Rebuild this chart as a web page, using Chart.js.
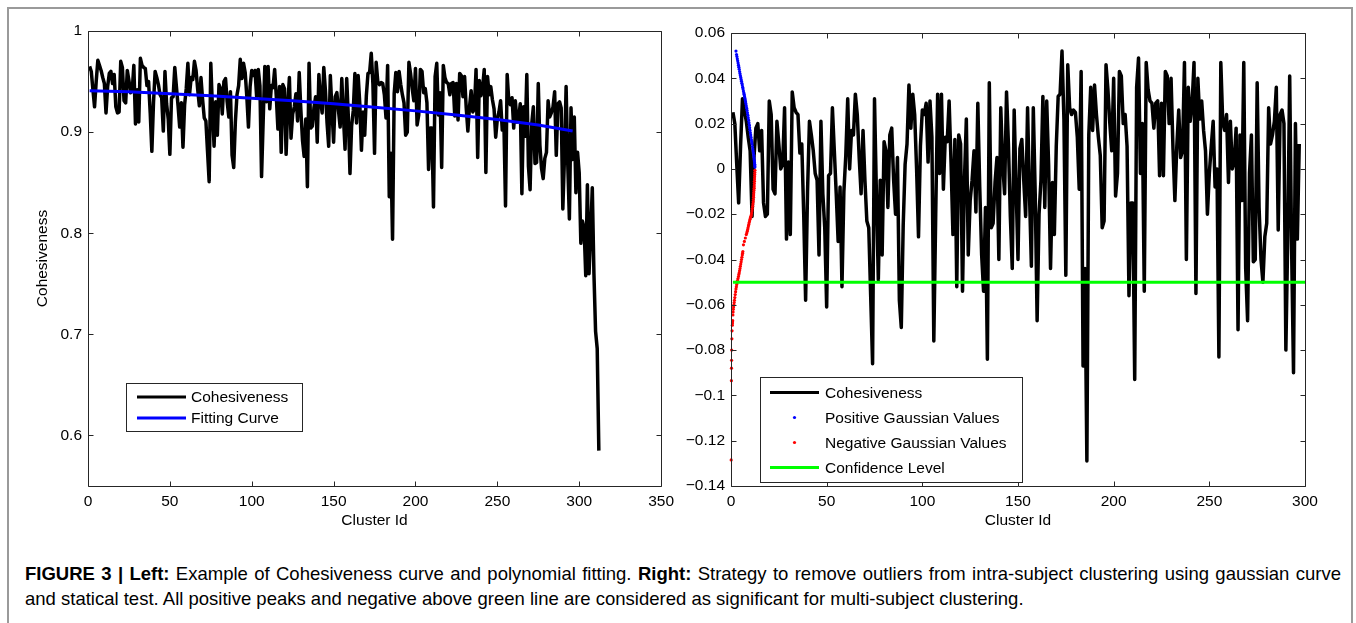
<!DOCTYPE html>
<html>
<head>
<meta charset="utf-8">
<script src="https://cdn.jsdelivr.net/npm/chart.js@4.4.1/dist/chart.umd.min.js"></script>
<style>
    html, body { margin: 0; padding: 0; background: #fff; }
    body { width: 1356px; height: 623px; position: relative; overflow: hidden; font-family: "Liberation Sans", Arial, sans-serif; }
    #frame { position: absolute; left: 7px; top: 7px; width: 1346px; height: 640px; box-sizing: border-box;
             border: 2px solid #9a9a9a; border-bottom: none; }
    #leftChart { position: absolute; left: 0; top: 0; }
    #rightChart { position: absolute; left: 680px; top: 0; }
    #caption { position: absolute; left: 25px; top: 561px; width: 1316px; font-size: 18.5px; line-height: 25px;
               color: #000; text-align: justify; }
</style>
</head>
<body>
<div id="frame"></div>
<canvas id="leftChart" width="680" height="540"></canvas>
<canvas id="rightChart" width="676" height="540"></canvas>
<div id="caption"><b>FIGURE 3 | Left:</b> Example of Cohesiveness curve and polynomial fitting. <b>Right:</b> Strategy to remove outliers from intra-subject clustering using gaussian curve and statical test. All positive peaks and negative above green line are considered as significant for multi-subject clustering.</div>

<script>
// ===============================
// DATA
// ===============================

// left panel: cohesiveness per cluster id (1..312)
const leftCohesiveness = [
    0.965, 0.960, 0.942, 0.925, 0.950, 0.971, 0.966, 0.961, 0.954, 0.948,
    0.919, 0.945, 0.958, 0.960, 0.948, 0.957, 0.925, 0.919, 0.920, 0.970,
    0.964, 0.931, 0.929, 0.961, 0.951, 0.939, 0.941, 0.966, 0.908, 0.942,
    0.910, 0.973, 0.966, 0.964, 0.963, 0.946, 0.950, 0.919, 0.881, 0.929,
    0.960, 0.954, 0.947, 0.937, 0.934, 0.901, 0.960, 0.928, 0.913, 0.878,
    0.934, 0.935, 0.964, 0.945, 0.926, 0.905, 0.929, 0.885, 0.927, 0.943,
    0.968, 0.937, 0.954, 0.952, 0.970, 0.961, 0.942, 0.926, 0.954, 0.932,
    0.914, 0.911, 0.881, 0.851, 0.968, 0.924, 0.886, 0.930, 0.897, 0.947,
    0.943, 0.918, 0.950, 0.953, 0.930, 0.915, 0.940, 0.877, 0.865, 0.910,
    0.937, 0.946, 0.972, 0.953, 0.968, 0.959, 0.935, 0.905, 0.945, 0.961,
    0.956, 0.961, 0.935, 0.962, 0.946, 0.856, 0.912, 0.965, 0.930, 0.965,
    0.923, 0.946, 0.944, 0.962, 0.935, 0.903, 0.945, 0.880, 0.947, 0.943,
    0.878, 0.927, 0.954, 0.894, 0.918, 0.925, 0.938, 0.911, 0.959, 0.922,
    0.892, 0.876, 0.913, 0.846, 0.968, 0.904, 0.906, 0.924, 0.935, 0.890,
    0.957, 0.932, 0.919, 0.964, 0.941, 0.909, 0.886, 0.956, 0.922, 0.890,
    0.935, 0.939, 0.921, 0.905, 0.953, 0.915, 0.883, 0.953, 0.915, 0.859,
    0.906, 0.921, 0.958, 0.909, 0.956, 0.928, 0.882, 0.920, 0.897, 0.936,
    0.958, 0.959, 0.978, 0.948, 0.879, 0.969, 0.950, 0.947, 0.949, 0.948,
    0.937, 0.914, 0.966, 0.836, 0.879, 0.794, 0.938, 0.959, 0.940, 0.960,
    0.947, 0.937, 0.929, 0.897, 0.900, 0.969, 0.958, 0.943, 0.931, 0.963,
    0.907, 0.917, 0.962, 0.960, 0.939, 0.943, 0.929, 0.863, 0.904, 0.904,
    0.826, 0.955, 0.968, 0.917, 0.939, 0.865, 0.966, 0.954, 0.949, 0.948,
    0.937, 0.948, 0.949, 0.916, 0.948, 0.912, 0.958, 0.956, 0.935, 0.955,
    0.924, 0.901, 0.925, 0.941, 0.920, 0.923, 0.962, 0.875, 0.951, 0.936,
    0.944, 0.962, 0.860, 0.955, 0.937, 0.945, 0.932, 0.923, 0.895, 0.913,
    0.920, 0.931, 0.902, 0.910, 0.827, 0.957, 0.931, 0.927, 0.934, 0.904,
    0.931, 0.910, 0.913, 0.928, 0.839, 0.925, 0.896, 0.957, 0.866, 0.843,
    0.908, 0.925, 0.869, 0.870, 0.948, 0.887, 0.864, 0.854, 0.874, 0.880,
    0.931, 0.915, 0.919, 0.925, 0.940, 0.877, 0.928, 0.930, 0.924, 0.824,
    0.875, 0.945, 0.869, 0.814, 0.924, 0.873, 0.915, 0.840, 0.880, 0.860,
    0.790, 0.812, 0.805, 0.758, 0.848, 0.760, 0.800, 0.845, 0.760, 0.703,
    0.686, 0.585
];

// left panel: polynomial fitting curve
const fitIds = [1, 25, 50, 75, 100, 125, 150, 175, 200, 225, 250, 275, 296];
const fitValues = [0.941, 0.940, 0.938, 0.936, 0.9335, 0.931, 0.928, 0.9245, 0.921, 0.917, 0.9125, 0.907, 0.901];

// right panel: cohesiveness minus fitting curve (1..297)
const rightResidual = [
    0.025, 0.020, 0.002, -0.015, 0.010, 0.031, 0.026, 0.021, 0.014, 0.008,
    -0.021, 0.005, 0.018, 0.020, 0.008, 0.017, -0.015, -0.021, -0.020, 0.030,
    0.024, -0.009, -0.011, 0.021, 0.011, 0.000, 0.002, 0.027, -0.031, 0.003,
    -0.029, 0.034, 0.027, 0.025, 0.024, 0.007, 0.011, -0.020, -0.058, -0.010,
    0.021, 0.015, 0.008, -0.002, -0.005, -0.038, 0.021, -0.011, -0.026, -0.061,
    -0.003, -0.002, 0.027, 0.008, -0.011, -0.032, -0.008, -0.052, -0.010, 0.006,
    0.031, 0.000, 0.017, 0.015, 0.033, 0.024, 0.005, -0.011, 0.017, -0.005,
    -0.023, -0.026, -0.056, -0.086, 0.031, -0.011, -0.049, -0.005, -0.038, 0.012,
    0.008, -0.017, 0.015, 0.018, -0.005, -0.020, 0.005, -0.058, -0.070, -0.025,
    0.002, 0.011, 0.037, 0.018, 0.033, 0.024, 0.000, -0.030, 0.010, 0.026,
    0.024, 0.029, 0.003, 0.030, 0.014, -0.076, -0.020, 0.033, -0.002, 0.033,
    -0.009, 0.014, 0.012, 0.030, 0.003, -0.029, 0.013, -0.052, 0.015, 0.011,
    -0.054, -0.005, 0.022, -0.038, -0.014, -0.005, 0.008, -0.019, 0.029, -0.008,
    -0.038, -0.054, -0.017, -0.084, 0.038, -0.026, -0.024, -0.006, 0.005, -0.040,
    0.027, 0.002, -0.011, 0.034, 0.011, -0.021, -0.044, 0.026, -0.008, -0.040,
    0.009, 0.013, -0.005, -0.021, 0.027, -0.011, -0.043, 0.027, -0.011, -0.067,
    -0.020, -0.005, 0.032, -0.017, 0.030, 0.002, -0.044, -0.006, -0.029, 0.010,
    0.032, 0.033, 0.052, 0.022, -0.047, 0.046, 0.027, 0.024, 0.026, 0.025,
    0.014, -0.009, 0.043, -0.087, -0.044, -0.129, 0.015, 0.036, 0.017, 0.037,
    0.024, 0.014, 0.006, -0.026, -0.023, 0.046, 0.035, 0.020, 0.008, 0.040,
    -0.012, -0.002, 0.043, 0.041, 0.020, 0.024, 0.010, -0.056, -0.015, -0.015,
    -0.093, 0.036, 0.049, -0.002, 0.020, -0.054, 0.047, 0.035, 0.030, 0.029,
    0.018, 0.029, 0.030, -0.003, 0.029, -0.003, 0.043, 0.041, 0.020, 0.040,
    0.009, -0.014, 0.010, 0.026, 0.005, 0.008, 0.047, -0.040, 0.036, 0.021,
    0.029, 0.047, -0.055, 0.040, 0.022, 0.030, 0.017, 0.008, -0.020, -0.002,
    0.010, 0.021, -0.008, 0.000, -0.083, 0.047, 0.021, 0.017, 0.024, -0.006,
    0.021, 0.000, 0.003, 0.018, -0.071, 0.015, -0.014, 0.047, -0.044, -0.067,
    -0.002, 0.015, -0.041, -0.040, 0.038, -0.017, -0.040, -0.050, -0.030, -0.024,
    0.027, 0.011, 0.015, 0.021, 0.036, -0.027, 0.024, 0.026, 0.020, -0.080,
    -0.029, 0.041, -0.035, -0.090, 0.020, -0.031, 0.011
];

// right panel: gaussian values (x position, value)
const posGaussX = [2.6, 2.9, 3.1, 3.3, 3.5, 3.7, 3.9, 4.1, 4.3, 4.5, 4.7, 4.9, 5.1, 5.3, 5.5,
    5.7, 5.9, 6.1, 6.3, 6.5, 6.7, 6.85, 7.0, 7.15, 7.3, 7.45, 7.6, 7.8, 8.0, 8.2,
    8.4, 8.6, 8.8, 9.0, 9.2, 9.4, 9.6, 9.75, 9.9, 10.1, 10.3, 10.5, 10.7, 10.85, 11.0,
    11.2, 11.4, 11.55, 11.7, 11.85, 12.0, 12.1, 12.2, 12.3, 12.4, 12.45, 12.5];
const posGaussY = [0.0520, 0.0505, 0.0496, 0.0486, 0.0477, 0.0468, 0.0458, 0.0449, 0.0440, 0.0430,
    0.0421, 0.0412, 0.0404, 0.0395, 0.0387, 0.0378, 0.0370, 0.0361, 0.0353, 0.0344,
    0.0336, 0.0330, 0.0323, 0.0317, 0.0311, 0.0304, 0.0297, 0.0288, 0.0278, 0.0268,
    0.0258, 0.0248, 0.0237, 0.0226, 0.0215, 0.0204, 0.0193, 0.0182, 0.0171, 0.0160,
    0.0150, 0.0139, 0.0128, 0.0119, 0.0110, 0.0099, 0.0088, 0.0079, 0.0070, 0.0060,
    0.0050, 0.0042, 0.0035, 0.0027, 0.0020, 0.0014, 0.0008];

const negGaussX = [12.5, 12.45, 12.4, 12.35, 12.3, 12.25, 12.2, 12.15, 12.1, 12.0, 11.9, 11.85,
    11.8, 11.7, 11.6, 11.45, 11.3, 11.15, 11.0, 10.8, 10.6, 10.4, 10.2, 9.95, 9.7, 9.5, 9.3,
    9.1, 8.9, 8.7, 8.5, 8.25, 8.0, 7.5, 7.0, 6.5, 6.2, 6.05, 5.9, 5.7, 5.5, 5.3, 5.1, 4.9,
    4.7, 4.5, 4.3, 4.1, 3.9, 3.65, 3.4, 3.2, 3.0, 2.8, 2.6, 2.4, 2.2, 2.0, 1.8, 1.65, 1.5,
    1.35, 1.2, 1.1, 1.0, 0.9, 0.8, 0.7, 0.55, 0.45, 0.35, 0.3, 0.25, 0.2, 0.1];
const negGaussY = [-0.0006, -0.0016, -0.0025, -0.0035, -0.0045, -0.0055, -0.0065, -0.0075, -0.0085,
    -0.0095, -0.0105, -0.0115, -0.0125, -0.0135, -0.0145, -0.0155, -0.0165, -0.0175, -0.0185,
    -0.0195, -0.0203, -0.0209, -0.0215, -0.0222, -0.0230, -0.0237, -0.0245, -0.0252, -0.0260,
    -0.0268, -0.0275, -0.0283, -0.0290, -0.0305, -0.0320, -0.0335, -0.0365, -0.0372, -0.0380,
    -0.0390, -0.0400, -0.0410, -0.0420, -0.0430, -0.0440, -0.0449, -0.0458, -0.0466, -0.0475,
    -0.0484, -0.0493, -0.0502, -0.0510, -0.0520, -0.0530, -0.0542, -0.0555, -0.0568, -0.0580,
    -0.0590, -0.0600, -0.0610, -0.0620, -0.0632, -0.0645, -0.0670, -0.0680, -0.0690, -0.0715,
    -0.0750, -0.0800, -0.0845, -0.0880, -0.0935, -0.1285];

// confidence level
const confIds = [1, 300];
const confValues = [-0.05, -0.05];

// ticks
const leftXTicks = [0, 50, 100, 150, 200, 250, 300, 350];
const leftXLabels = ["0", "50", "100", "150", "200", "250", "300", "350"];
const leftYTicks = [0.6, 0.7, 0.8, 0.9, 1];
const leftYLabels = ["0.6", "0.7", "0.8", "0.9", "1"];

const rightXTicks = [0, 50, 100, 150, 200, 250, 300];
const rightXLabels = ["0", "50", "100", "150", "200", "250", "300"];
const rightYTicks = [-0.14, -0.12, -0.1, -0.08, -0.06, -0.04, -0.02, 0, 0.02, 0.04, 0.06];
const rightYLabels = ["\u22120.14", "\u22120.12", "\u22120.1", "\u22120.08", "\u22120.06", "\u22120.04",
    "\u22120.02", "0", "0.02", "0.04", "0.06"];


// ===============================
// HELPERS
// ===============================

const FONT = { family: "'Liberation Sans', Arial, sans-serif", size: 15.5 };

function pairs(xs, ys) {
    return xs.map((x, i) => ({ x: x, y: ys[i] }));
}

function fixedTicks(values, labels) {
    return {
        afterBuildTicks: s => { s.ticks = values.map(v => ({ value: v })); },
        ticks: {
            callback: (v, i) => labels[i],
            font: FONT, color: '#000', padding: 6,
            autoSkip: false, maxRotation: 0
        }
    };
}

// MATLAB style box with inward ticks
const matlabBox = {
    id: 'matlabBox',
    afterDatasetsDraw(chart) {
        const ctx = chart.ctx;
        const a = chart.chartArea;
        const x = chart.scales.x, y = chart.scales.y;
        const L = Math.round(a.left) + 0.5, R = Math.round(a.right) + 0.5;
        const T = Math.round(a.top) + 0.5, B = Math.round(a.bottom) + 0.5;
        ctx.save();
        ctx.strokeStyle = '#262626';
        ctx.lineWidth = 1;
        ctx.beginPath();
        ctx.rect(L, T, R - L, B - T);
        x.ticks.forEach(t => {
            const px = Math.round(x.getPixelForValue(t.value)) + 0.5;
            ctx.moveTo(px, B); ctx.lineTo(px, B - 5);
            ctx.moveTo(px, T); ctx.lineTo(px, T + 5);
        });
        y.ticks.forEach(t => {
            const py = Math.round(y.getPixelForValue(t.value)) + 0.5;
            ctx.moveTo(L, py); ctx.lineTo(L + 5, py);
            ctx.moveTo(R, py); ctx.lineTo(R - 5, py);
        });
        ctx.stroke();
        ctx.restore();
    }
};

// boxed legend inside the plot, like MATLAB
const boxLegend = {
    id: 'boxLegend',
    afterDraw(chart, args, opts) {
        const ctx = chart.ctx;
        ctx.save();
        ctx.fillStyle = '#fff';
        ctx.fillRect(opts.left, opts.top, opts.width, opts.height);
        ctx.strokeStyle = '#262626';
        ctx.lineWidth = 1;
        ctx.strokeRect(opts.left + 0.5, opts.top + 0.5, opts.width, opts.height);
        ctx.font = FONT.size + 'px ' + FONT.family;
        ctx.textBaseline = 'middle';
        chart.data.datasets.forEach((ds, i) => {
            const yy = opts.top + opts.firstRow + i * opts.rowGap;
            if (ds.showLine === false) {
                ctx.fillStyle = ds.backgroundColor;
                ctx.beginPath();
                ctx.arc((opts.lineX0 + opts.lineX1) / 2, yy, ds.pointRadius, 0, Math.PI * 2);
                ctx.fill();
            } else {
                ctx.strokeStyle = ds.borderColor;
                ctx.lineWidth = 3;
                ctx.beginPath();
                ctx.moveTo(opts.lineX0, yy);
                ctx.lineTo(opts.lineX1, yy);
                ctx.stroke();
            }
            ctx.fillStyle = '#000';
            ctx.fillText(ds.label, opts.textX, yy + 1);
        });
        ctx.restore();
    }
};

function lineSet(label, data, color, width, order) {
    return {
        label: label, data: data, borderColor: color, backgroundColor: color,
        borderWidth: width, pointRadius: 0, tension: 0, borderJoinStyle: 'round',
        order: order
    };
}

function dotSet(label, data, color, order) {
    return {
        label: label, data: data, showLine: false, backgroundColor: color,
        borderWidth: 0, pointRadius: 1.6, order: order, clip: false
    };
}


// ===============================
// LEFT CHART
// ===============================

const leftIds = leftCohesiveness.map((v, i) => i + 1);

const leftX = fixedTicks(leftXTicks, leftXLabels);
const leftY = fixedTicks(leftYTicks, leftYLabels);

let leftChart = new Chart(document.getElementById('leftChart'), {
    type: 'line',
    data: {
        datasets: [
            lineSet('Cohesiveness', pairs(leftIds, leftCohesiveness), '#000000', 3.5, 2),
            lineSet('Fitting Curve', pairs(fitIds, fitValues), '#0000ff', 3, 1)
        ]
    },
    options: {
        responsive: false,
        animation: false,
        events: [],
        layout: { padding: { left: 0, top: 31, right: 15, bottom: 0 } },
        scales: {
            x: {
                type: 'linear', min: 0, max: 350,
                afterBuildTicks: leftX.afterBuildTicks,
                afterFit: s => { s.height = 54; },
                ticks: leftX.ticks,
                grid: { display: false, drawTicks: false },
                border: { display: false },
                title: { display: true, text: 'Cluster Id', font: FONT, color: '#000', padding: { top: 0, bottom: 10 } }
            },
            y: {
                type: 'linear', min: 0.55, max: 1,
                afterBuildTicks: leftY.afterBuildTicks,
                afterFit: s => { s.width = 88; },
                ticks: leftY.ticks,
                grid: { display: false, drawTicks: false },
                border: { display: false },
                title: { display: true, text: 'Cohesiveness', font: FONT, color: '#000', padding: { top: 33, bottom: 0 } }
            }
        },
        plugins: {
            legend: { display: false },
            tooltip: { enabled: false },
            boxLegend: { left: 126, top: 383, width: 176, height: 48, firstRow: 14, rowGap: 21, lineX0: 137, lineX1: 186, textX: 191 }
        }
    },
    plugins: [matlabBox, boxLegend]
});


// ===============================
// RIGHT CHART
// ===============================

const rightIds = rightResidual.map((v, i) => i + 1);

const rightX = fixedTicks(rightXTicks, rightXLabels);
const rightY = fixedTicks(rightYTicks, rightYLabels);

let rightChart = new Chart(document.getElementById('rightChart'), {
    type: 'line',
    data: {
        datasets: [
            lineSet('Cohesiveness', pairs(rightIds, rightResidual), '#000000', 3.5, 4),
            dotSet('Positive Gaussian Values', pairs(posGaussX, posGaussY), '#0000ff', 2),
            dotSet('Negative Gaussian Values', pairs(negGaussX, negGaussY), '#ff0000', 2),
            lineSet('Confidence Level', pairs(confIds, confValues), '#00ff00', 3, 1)
        ]
    },
    options: {
        responsive: false,
        animation: false,
        events: [],
        layout: { padding: { left: 0, top: 33, right: 51, bottom: 0 } },
        scales: {
            x: {
                type: 'linear', min: 0, max: 300,
                afterBuildTicks: rightX.afterBuildTicks,
                afterFit: s => { s.height = 54; },
                ticks: rightX.ticks,
                grid: { display: false, drawTicks: false },
                border: { display: false },
                title: { display: true, text: 'Cluster Id', font: FONT, color: '#000', padding: { top: 0, bottom: 10 } }
            },
            y: {
                type: 'linear', min: -0.14, max: 0.06,
                afterBuildTicks: rightY.afterBuildTicks,
                afterFit: s => { s.width = 51; },
                ticks: rightY.ticks,
                grid: { display: false, drawTicks: false },
                border: { display: false }
            }
        },
        plugins: {
            legend: { display: false },
            tooltip: { enabled: false },
            boxLegend: { left: 80, top: 377, width: 262, height: 105, firstRow: 15.5, rowGap: 25, lineX0: 90, lineX1: 139, textX: 145 }
        }
    },
    plugins: [matlabBox, boxLegend]
});
</script>
</body>
</html>
